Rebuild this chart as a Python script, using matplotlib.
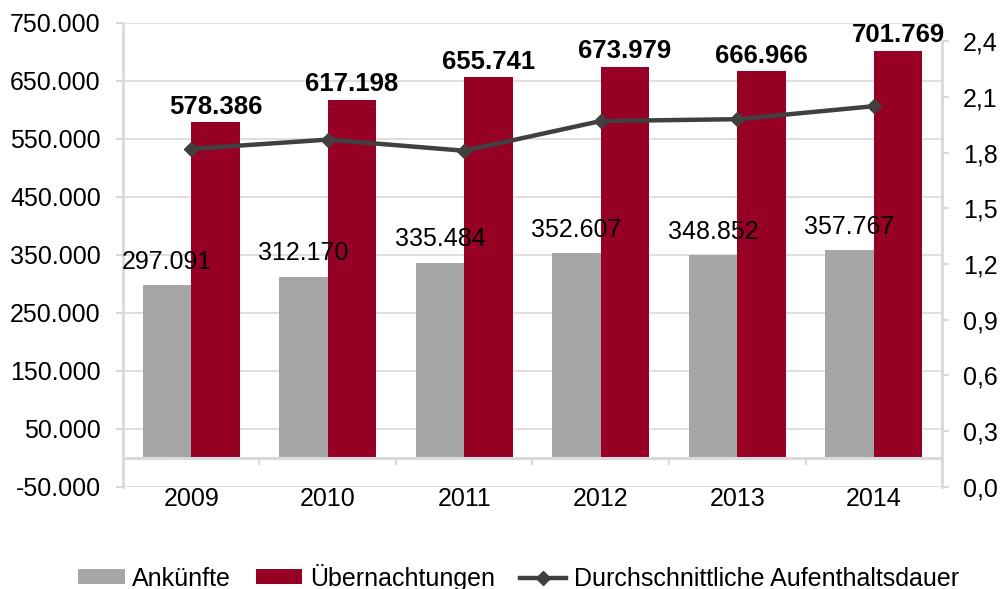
import numpy as np
import matplotlib
matplotlib.use('Agg')
import matplotlib.pyplot as plt
from matplotlib.ticker import FuncFormatter

plt.rcParams['font.family'] = ['Liberation Sans', 'DejaVu Sans']

years = ['2009', '2010', '2011', '2012', '2013', '2014']
ankuenfte = [297091, 312170, 335484, 352607, 348852, 357767]
uebernachtungen = [578386, 617198, 655741, 673979, 666966, 701769]
aufenthaltsdauer = [1.82, 1.87, 1.81, 1.97, 1.98, 2.05]

GRAY = '#a6a6a6'
RED = '#960024'
LINE = '#404040'
GRID = '#d9d9d9'
FS = 18


def de_int(v, pos=None):
    return '{:,.0f}'.format(v).replace(',', '.')


def de_dec(v, pos=None):
    return '{:.1f}'.format(v).replace('.', ',')


fig = plt.figure(figsize=(10.03, 5.89), dpi=100)
ax = fig.add_axes([0.1226, 0.1737, 0.8166, 0.7878])

x = np.arange(len(years))
w = 0.355
ax.bar(x - w / 2, ankuenfte, w, color=GRAY, label='Ankünfte', zorder=2)
ax.bar(x + w / 2, uebernachtungen, w, color=RED, label='Übernachtungen', zorder=2)

for xi, v in zip(x, ankuenfte):
    ax.annotate(de_int(v), (xi - w / 2, v), xytext=(0, 17), textcoords='offset points',
                ha='center', va='center', fontsize=FS, zorder=5)
for xi, v in zip(x, uebernachtungen):
    ax.annotate(de_int(v), (xi + w / 2, v), xytext=(0, 11), textcoords='offset points',
                ha='center', va='center', fontsize=FS + 0.5, fontweight='bold', zorder=5,
                annotation_clip=False)

ax.set_xlim(-0.5, len(years) - 0.5)
ax.set_ylim(-50000, 750000)
ax.set_yticks(np.arange(-50000, 750001, 100000))
ax.yaxis.set_major_formatter(FuncFormatter(de_int))
ax.grid(axis='y', color=GRID, lw=1.2, zorder=0)
ax.set_axisbelow(True)

# x-axis sits at the zero line
ax.spines['bottom'].set_position(('data', 0))
ax.spines['bottom'].set_color(GRID)
ax.spines['bottom'].set_linewidth(2.2)
ax.spines['top'].set_visible(False)
ax.spines['right'].set_visible(False)
ax.spines['left'].set_color(GRID)
ax.spines['left'].set_linewidth(2)
ax.set_xticks(x)
ax.set_xticklabels(years)
ax.set_xticks(np.arange(-0.5, len(years)), minor=True)
ax.tick_params(axis='x', which='major', length=0, pad=21, labelsize=FS)
ax.tick_params(axis='x', which='minor', length=5, width=1.5, color=GRID)
ax.tick_params(axis='y', length=5, width=1.5, color=GRID, pad=11, labelsize=FS)

ax2 = ax.twinx()
ax2.plot(x, aufenthaltsdauer, color=LINE, lw=3.2, marker='D', markersize=7,
         label='Durchschnittliche Aufenthaltsdauer', zorder=4)
ax2.set_ylim(0, 2.5)
ax2.set_yticks(np.arange(0, 2.41, 0.3))
ax2.yaxis.set_major_formatter(FuncFormatter(de_dec))
for s in ['top', 'left', 'bottom']:
    ax2.spines[s].set_visible(False)
ax2.spines['right'].set_color(GRID)
ax2.spines['right'].set_linewidth(2)
ax2.spines['right'].set_bounds(0, 2.4)
ax2.tick_params(axis='y', length=5, width=1.5, color=GRID, pad=10, labelsize=FS)

h1, l1 = ax.get_legend_handles_labels()
h2, l2 = ax2.get_legend_handles_labels()
fig.legend(h1 + h2, l1 + l2, loc='center', bbox_to_anchor=(0.517, 0.02), ncol=3,
           frameon=False, fontsize=FS, handlelength=1.85, handleheight=0.55,
           handletextpad=0.3, columnspacing=1.0)

fig.savefig('out.png', dpi=100)
